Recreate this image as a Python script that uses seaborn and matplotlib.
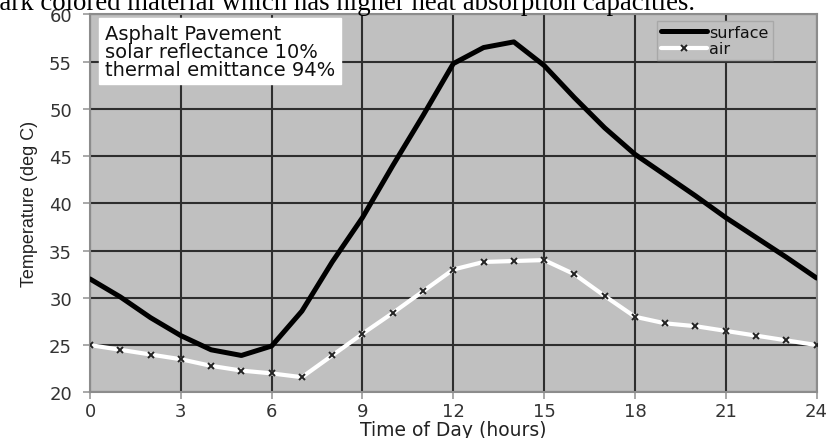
import matplotlib
matplotlib.use("Agg")
import matplotlib.pyplot as plt
import seaborn as sns
import pandas as pd

# Hourly temperatures over one day (deg C)
hours = list(range(25))
surface = [32.0, 30.1, 27.9, 26.0, 24.5, 23.9, 24.9, 28.6, 33.8, 38.5,
           44.0, 49.3, 54.8, 56.5, 57.1, 54.6, 51.2, 48.0, 45.2, 43.0,
           40.8, 38.5, 36.4, 34.3, 32.1]
air = [25.0, 24.5, 24.0, 23.5, 22.8, 22.3, 22.0, 21.6, 23.9, 26.2,
       28.4, 30.7, 33.0, 33.8, 33.9, 34.0, 32.5, 30.2, 28.0, 27.3,
       27.0, 26.5, 26.0, 25.5, 25.0]
x_ticks = [0, 3, 6, 9, 12, 15, 18, 21, 24]
y_ticks = [20, 25, 30, 35, 40, 45, 50, 55, 60]
info_lines = ["Asphalt Pavement", "solar reflectance 10%", "thermal emittance 94%"]
caption = "dark colored material which has higher heat absorption capacities."

df = pd.DataFrame({"hour": hours, "surface": surface, "air": air})

sns.set_style("whitegrid", {
    "axes.facecolor": "#c0c0c0",
    "grid.color": "#2e2e2e",
    "axes.edgecolor": "#8c8c8c",
})
plt.rcParams["font.family"] = ["DejaVu Sans"]

fig = plt.figure(figsize=(8.29, 4.39), dpi=100)
ax = fig.add_axes([0.1086, 0.1041, 0.8764, 0.8606])

sns.lineplot(data=df, x="hour", y="surface", ax=ax, color="black",
             linewidth=3.6, label="surface", zorder=3)
sns.lineplot(data=df, x="hour", y="air", ax=ax, color="white",
             linewidth=3.0, marker="x", markersize=4, markeredgewidth=1.4,
             markeredgecolor="#222222", label="air", zorder=3)

ax.set_xlim(0, 24)
ax.set_ylim(20, 60)
ax.set_xticks(x_ticks)
ax.set_yticks(y_ticks)
ax.grid(True, color="#2e2e2e", linewidth=1.5)
ax.set_axisbelow(True)
for side in ["left", "bottom", "top", "right"]:
    ax.spines[side].set_visible(True)
    ax.spines[side].set_color("#8c8c8c")
    ax.spines[side].set_linewidth(1.5)

ax.tick_params(axis="both", which="major", length=5, width=1.2,
               color="#9a9a9a", labelsize=13, labelcolor="#333333",
               direction="out", left=True, bottom=True)
ax.tick_params(axis="y", pad=8)
ax.tick_params(axis="x", pad=2)

ax.set_xlabel("Time of Day (hours)", fontsize=13.5, color="#222222", labelpad=0)
ax.set_ylabel("Temperature (deg C)", fontsize=13, color="#222222",
              family=["Liberation Sans Narrow", "Liberation Sans", "DejaVu Sans"],
              labelpad=8)

ax.text(0.0206, 0.975, "\n".join(info_lines), transform=ax.transAxes,
        fontsize=14, va="top", ha="left", color="#111111", linespacing=0.92,
        bbox=dict(boxstyle="square,pad=0.3", facecolor="white",
                  edgecolor="white"), zorder=5)

leg = ax.legend(loc="upper left", bbox_to_anchor=(0.780, 0.983),
                borderaxespad=0, fontsize=11.5, frameon=True, fancybox=False,
                facecolor="#c0c0c0", edgecolor="#a8a8a8", framealpha=1,
                handlelength=2.9, handletextpad=0.15, labelspacing=0.08,
                borderpad=0.25, numpoints=1)
for t in leg.get_texts():
    t.set_color("#111111")

fig.text(-14 / 829, 1 - 10.5 / 439, caption, family="Liberation Serif",
         fontsize=19.3, va="baseline", ha="left", color="black")

fig.savefig("out.png", dpi=100, facecolor="white")
